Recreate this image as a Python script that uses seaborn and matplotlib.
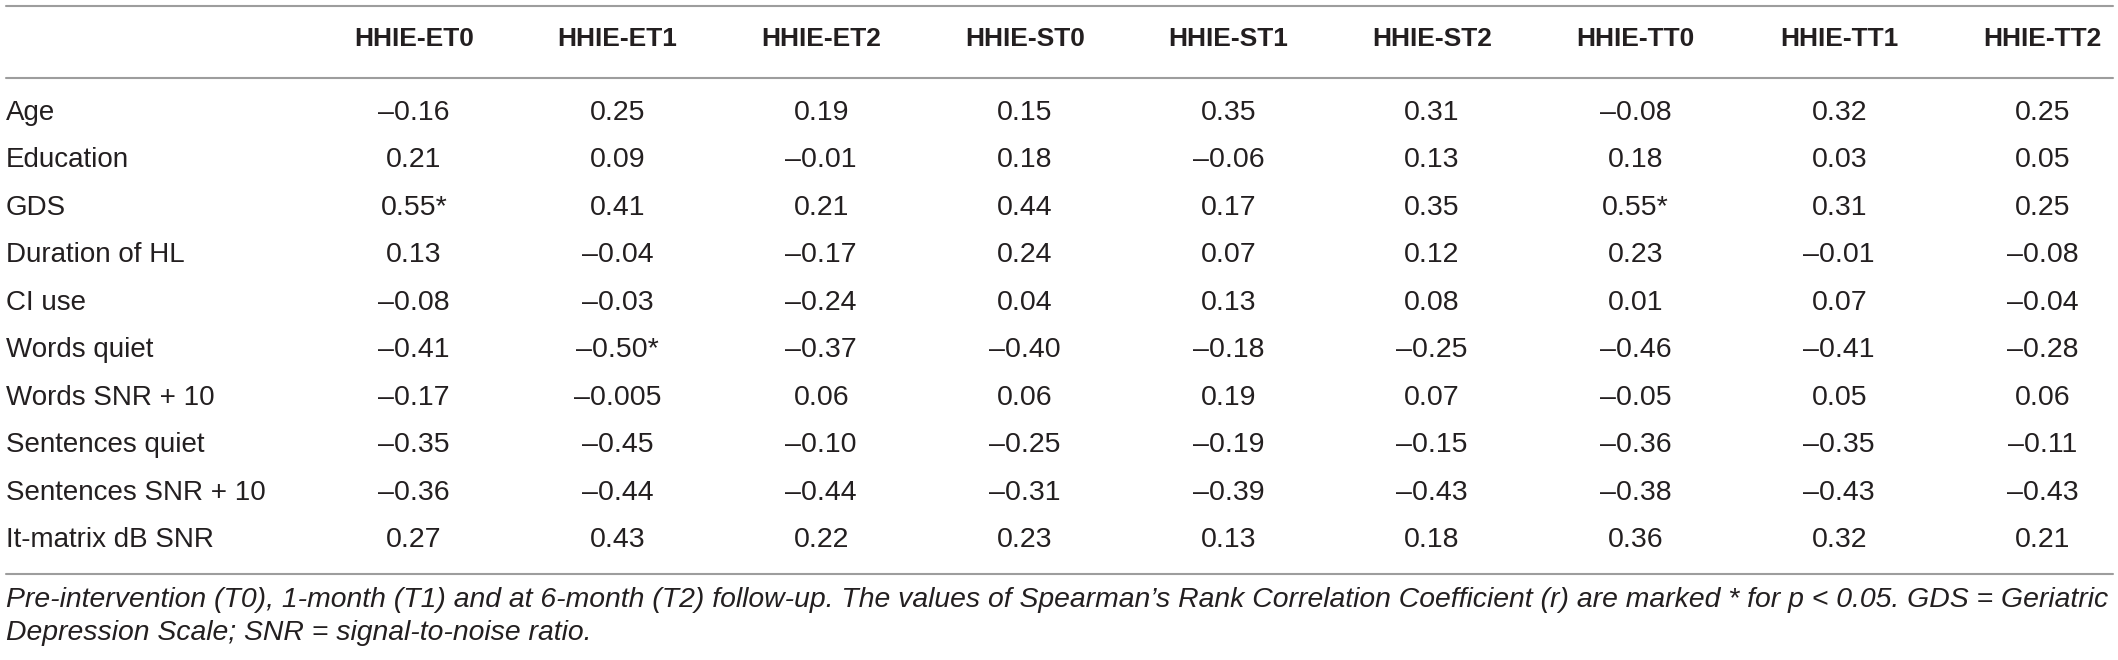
import numpy as np
import pandas as pd
import matplotlib
matplotlib.use("Agg")
import matplotlib.pyplot as plt
import seaborn as sns
from matplotlib import font_manager
from matplotlib.colors import ListedColormap
from matplotlib.lines import Line2D
from matplotlib.transforms import blended_transform_factory

# table content
measures = ["HHIE-ET0", "HHIE-ET1", "HHIE-ET2", "HHIE-ST0", "HHIE-ST1",
            "HHIE-ST2", "HHIE-TT0", "HHIE-TT1", "HHIE-TT2"]
variables = ["Age", "Education", "GDS", "Duration of HL", "CI use", "Words quiet",
             "Words SNR + 10", "Sentences quiet", "Sentences SNR + 10", "It-matrix dB SNR"]

hhie_et0 = [-0.16, 0.21, 0.55, 0.13, -0.08, -0.41, -0.17, -0.35, -0.36, 0.27]
hhie_et1 = [0.25, 0.09, 0.41, -0.04, -0.03, -0.50, -0.005, -0.45, -0.44, 0.43]
hhie_et2 = [0.19, -0.01, 0.21, -0.17, -0.24, -0.37, 0.06, -0.10, -0.44, 0.22]
hhie_st0 = [0.15, 0.18, 0.44, 0.24, 0.04, -0.40, 0.06, -0.25, -0.31, 0.23]
hhie_st1 = [0.35, -0.06, 0.17, 0.07, 0.13, -0.18, 0.19, -0.19, -0.39, 0.13]
hhie_st2 = [0.31, 0.13, 0.35, 0.12, 0.08, -0.25, 0.07, -0.15, -0.43, 0.18]
hhie_tt0 = [-0.08, 0.18, 0.55, 0.23, 0.01, -0.46, -0.05, -0.36, -0.38, 0.36]
hhie_tt1 = [0.32, 0.03, 0.31, -0.01, 0.07, -0.41, 0.05, -0.35, -0.43, 0.32]
hhie_tt2 = [0.25, 0.05, 0.25, -0.08, -0.04, -0.28, 0.06, -0.11, -0.43, 0.21]

# cells marked * (p < 0.05): (variable, measure)
significant = [("GDS", "HHIE-ET0"), ("Words quiet", "HHIE-ET1"), ("GDS", "HHIE-TT0")]

caption_1 = ("Pre-intervention (T0), 1-month (T1) and at 6-month (T2) follow-up. The values of "
             "Spearman\u2019s Rank Correlation Coefficient (r) are marked * for p < 0.05. GDS = Geriatric")
caption_2 = "Depression Scale; SNR = signal-to-noise ratio."

df = pd.DataFrame(
    np.column_stack([hhie_et0, hhie_et1, hhie_et2, hhie_st0, hhie_st1,
                     hhie_st2, hhie_tt0, hhie_tt1, hhie_tt2]),
    index=variables, columns=measures)


def fmt(v):
    s = f"{v:.2f}" if round(v, 2) == v else f"{v:.3f}"
    return s.replace("-", "\u2013")


labels = df.apply(lambda col: col.map(fmt))
for var, mea in significant:
    labels.loc[var, mea] += "*"

sns.set_theme(style="white")
names = {f.name for f in font_manager.fontManager.ttflist}
body_font = "Liberation Sans" if "Liberation Sans" in names else "DejaVu Sans"
head_font = "Liberation Sans Narrow" if "Liberation Sans Narrow" in names else body_font
plt.rcParams["font.family"] = [body_font, "DejaVu Sans"]

W, H = 2118, 660
TXT = "#231f20"
RULE = "#9d9d9d"

fig = plt.figure(figsize=(W / 100, H / 100), dpi=100)
fig.patch.set_facecolor("white")

# cell grid: first column centre 414 px, pitch ~203.6 px; rows 113..540 px
col_w, row_h = 203.6, 47.44
left, top = 414 - col_w / 2, 113 - row_h / 2
ax = fig.add_axes([left / W, 1 - (top + row_h * len(variables)) / H,
                   col_w * len(measures) / W, row_h * len(variables) / H])

sns.heatmap(np.zeros(df.shape), annot=labels.values, fmt="", cmap=ListedColormap(["white"]),
            cbar=False, xticklabels=False, yticklabels=False, ax=ax,
            annot_kws=dict(fontsize=20.5, color=TXT, family=[body_font, "DejaVu Sans"]))
ax.tick_params(length=0)
ax.set_xlabel("")
ax.set_ylabel("")

# column headers
for j, m in enumerate(measures):
    ax.text(j + 0.5, -1.06, m, ha="center", va="center", fontsize=23 if head_font != body_font else 19,
            fontweight="bold", color=TXT, family=[head_font, "DejaVu Sans"], clip_on=False)

# row labels, left aligned at the table edge
row_tr = blended_transform_factory(fig.transFigure, ax.transData)
for i, v in enumerate(variables):
    ax.text(6 / W, i + 0.5, v, transform=row_tr, ha="left", va="center",
            fontsize=20, color=TXT, clip_on=False)

# horizontal rules
for y in (6, 78, 574):
    fig.add_artist(Line2D([6 / W, 2113 / W], [1 - y / H, 1 - y / H], transform=fig.transFigure,
                          color=RULE, lw=1.5))

# caption, sized so the first line spans the table width
renderer = fig.canvas.get_renderer()
cap = fig.text(6 / W, 1 - 600 / H, caption_1, ha="left", va="center", fontsize=18,
               style="italic", color=TXT)
w = cap.get_window_extent(renderer).width
cap.set_fontsize(18 * (2104 / w))
fig.text(6 / W, 1 - 633 / H, caption_2, ha="left", va="center", fontsize=cap.get_fontsize(),
         style="italic", color=TXT)

fig.savefig("out.png", dpi=100, facecolor="white")
